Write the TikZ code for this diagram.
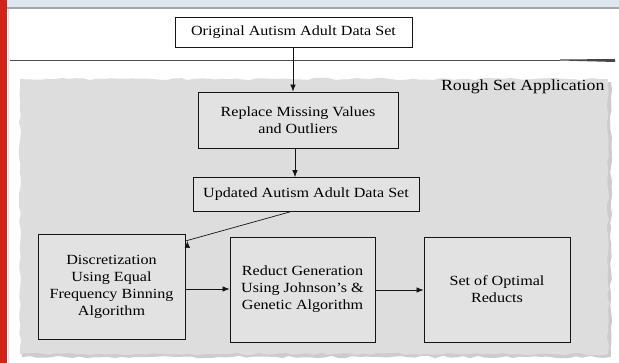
\documentclass[tikz,border=0pt]{standalone}
\usepackage{fontspec}
\setmainfont{Liberation Serif}[FakeStretch=1.15]
\usetikzlibrary{arrows.meta,decorations.pathmorphing}
\definecolor{barred}{RGB}{212,36,26}
\definecolor{bandblue}{RGB}{222,231,240}
\definecolor{panel}{RGB}{221,221,221}
\definecolor{boxfill}{RGB}{226,226,226}
\definecolor{ink}{RGB}{20,20,20}
\tikzset{
  procbox/.style={draw=ink, line width=0.8pt, fill=boxfill, align=center,
    font=\fontsize{14}{17}\selectfont, inner sep=0pt},
  flow/.style={-{Latex[length=7pt,width=5.5pt]}, draw=ink, line width=0.7pt},
  torn/.style={decorate, decoration={random steps, segment length=7pt, amplitude=1.2pt}},
}
\pgfmathsetseed{7}
\begin{document}
\begin{tikzpicture}[x=1pt,y=-1pt]
\useasboundingbox (0,0) rectangle (619,363);
\fill[white] (0,0) rectangle (619,363);
% window chrome
\fill[bandblue] (0,0) rectangle (619,7);
\draw[gray!70, line width=1.2pt] (0,8) -- (619,8);
\fill[barred] (0,0) rectangle (6.5,363);
\draw[gray!25, line width=0.8pt] (8,9) -- (8,363);
% separator rule
\draw[gray!60!black, line width=0.9pt] (10,60) -- (560,60);
\fill[gray!55!black] (560,59.5) -- (615,59) -- (615,62) -- (560,60.5) -- cycle;
% torn panel
\fill[gray!40, torn] (22,82) -- (611,82) -- (611,357) -- (22,357) -- cycle;
\fill[panel, torn] (20,79) -- (608,79) -- (608,354) -- (20,354) -- cycle;
\node[font=\fontsize{15.5}{17}\selectfont, anchor=east] (title) at (608,87) {Rough Set Application};
% boxes
\node[procbox, fill=white, minimum width=237pt, minimum height=30pt] (orig) at (293.5,32) {Original Autism Adult Data Set};
\node[procbox, minimum width=200pt, minimum height=56pt] (repl) at (298,120) {Replace Missing Values\\and Outliers};
\node[procbox, minimum width=226pt, minimum height=34pt] (upd) at (306,194.5) {Updated Autism Adult Data Set};
\node[procbox, minimum width=147pt, minimum height=105pt] (disc) at (111.5,286.5) {Discretization\\Using Equal\\Frequency Binning\\Algorithm};
\node[procbox, minimum width=145pt, minimum height=105pt] (red) at (302.5,289.5) {Reduct Generation\\Using Johnson's \&\\Genetic Algorithm};
\node[procbox, minimum width=146pt, minimum height=105pt] (opt) at (497,289.5) {Set of Optimal\\Reducts};
% connectors
\draw[flow] (orig.south -| 293,0) -- (repl.north -| 293,0);
\draw[flow] (repl.south -| 295,0) -- (upd.north -| 295,0);
\draw[flow] (upd.south -| 290,0) -- (disc.north east |- 0,241) ++(2,0);
\draw[flow] (disc.east |- 0,289) -- (red.west |- 0,289);
\draw[flow] (red.east |- 0,290) -- (opt.west |- 0,290);
\end{tikzpicture}
\end{document}
